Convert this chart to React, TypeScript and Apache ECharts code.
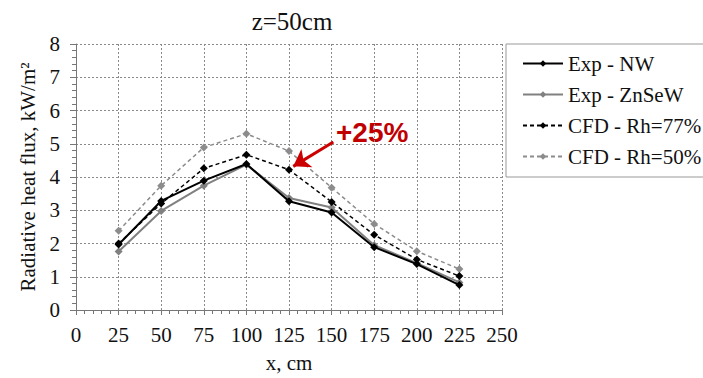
import React, { useEffect, useRef } from "react";
import * as echarts from "echarts";

const xValues = [25, 50, 75, 100, 125, 150, 175, 200, 225];
const expNW = [1.97, 3.28, 3.89, 4.39, 3.27, 2.93, 1.89, 1.38, 0.75];
const expZnSeW = [1.76, 2.98, 3.74, 4.37, 3.37, 3.08, 1.95, 1.41, 0.83];
const cfd77 = [2.0, 3.2, 4.26, 4.67, 4.22, 3.25, 2.26, 1.52, 1.02];
const cfd50 = [2.38, 3.74, 4.89, 5.3, 4.78, 3.68, 2.59, 1.77, 1.23];
const seriesNames = ["Exp - NW", "Exp - ZnSeW", "CFD - Rh=77%", "CFD - Rh=50%"];
const arrowStart = [151, 5.05];
const arrowEnd = [127.5, 4.32];

const FONT = "Liberation Serif";

const pairs = (ys: number[]) => xValues.map((x, i) => [x, ys[i]]);

export default function App() {
  const ref = useRef<HTMLDivElement>(null);
  useEffect(() => {
    if (!ref.current) return;
    const chart = echarts.init(ref.current, undefined, { renderer: "svg" });
    const gridLine = { show: true, lineStyle: { color: "#8a8a8a", type: [2, 2] as any, width: 1 } };
    chart.setOption({
      animation: false,
      backgroundColor: "#ffffff",
      title: {
        text: "z=50cm",
        left: 287,
        top: 4,
        textAlign: "center",
        textStyle: { fontFamily: FONT, fontSize: 25, fontWeight: "normal", color: "#111" },
      },
      grid: { left: 76, right: 201, top: 44, bottom: 59, show: false },
      legend: {
        orient: "vertical",
        left: 506,
        top: 44,
        padding: [9, 12, 10, 16],
        itemGap: 10,
        itemWidth: 40,
        itemHeight: 8,
        borderColor: "#999",
        borderWidth: 1,
        textStyle: { fontFamily: FONT, fontSize: 21, color: "#111" },
        data: seriesNames,
      },
      xAxis: {
        type: "value",
        min: 0,
        max: 250,
        interval: 25,
        name: "x, cm",
        nameLocation: "middle",
        nameGap: 42,
        nameTextStyle: { fontFamily: FONT, fontSize: 21, color: "#111" },
        axisLine: { show: true, lineStyle: { color: "#777", width: 1 } },
        axisTick: { show: true, inside: false, length: 5, lineStyle: { color: "#777" } },
        minorTick: { show: true, splitNumber: 5, length: 4, lineStyle: { color: "#777" } },
        axisLabel: { fontFamily: FONT, fontSize: 21, color: "#111", margin: 14 },
        splitLine: gridLine,
      },
      yAxis: {
        type: "value",
        min: 0,
        max: 8,
        interval: 1,
        name: "Radiative heat flux, kW/m²",
        nameLocation: "middle",
        nameGap: 37,
        nameTextStyle: { fontFamily: FONT, fontSize: 21, color: "#111" },
        axisLine: { show: true, lineStyle: { color: "#777", width: 1 } },
        axisTick: { show: true, inside: false, length: 6, lineStyle: { color: "#777" } },
        minorTick: { show: true, splitNumber: 5, length: 4, lineStyle: { color: "#777" } },
        axisLabel: { fontFamily: FONT, fontSize: 21, color: "#111", margin: 16 },
        splitLine: gridLine,
      },
      series: [
        {
          name: seriesNames[0],
          type: "line",
          data: pairs(expNW),
          symbol: "diamond",
          symbolSize: 8,
          itemStyle: { color: "#000" },
          lineStyle: { color: "#000", width: 2 },
          z: 4,
        },
        {
          name: seriesNames[1],
          type: "line",
          data: pairs(expZnSeW),
          symbol: "diamond",
          symbolSize: 8,
          itemStyle: { color: "#808080" },
          lineStyle: { color: "#808080", width: 2 },
          z: 3,
        },
        {
          name: seriesNames[2],
          type: "line",
          data: pairs(cfd77),
          symbol: "diamond",
          symbolSize: 8,
          itemStyle: { color: "#000" },
          lineStyle: { color: "#000", width: 1.5, type: [4, 3] as any },
          z: 5,
          markLine: {
            silent: true,
            symbol: ["none", "arrow"],
            symbolSize: [16, 16],
            label: { show: false },
            lineStyle: { color: "#cc0000", width: 3, type: "solid" },
            data: [[{ coord: arrowStart }, { coord: arrowEnd }]],
          },
        },
        {
          name: seriesNames[3],
          type: "line",
          data: pairs(cfd50),
          symbol: "diamond",
          symbolSize: 8,
          itemStyle: { color: "#8c8c8c" },
          lineStyle: { color: "#8c8c8c", width: 1.5, type: [4, 3] as any },
          z: 2,
        },
      ],
      graphic: [
        {
          type: "text",
          left: 336,
          top: 118,
          style: {
            text: "+25%",
            fontFamily: "Liberation Sans",
            fontSize: 28,
            fontWeight: "bold",
            fill: "#c00000",
          },
        },
      ],
    });
    return () => chart.dispose();
  }, []);
  return <div ref={ref} style={{ width: 703, height: 378, position: "absolute", left: 0, top: 0 }} />;
}
